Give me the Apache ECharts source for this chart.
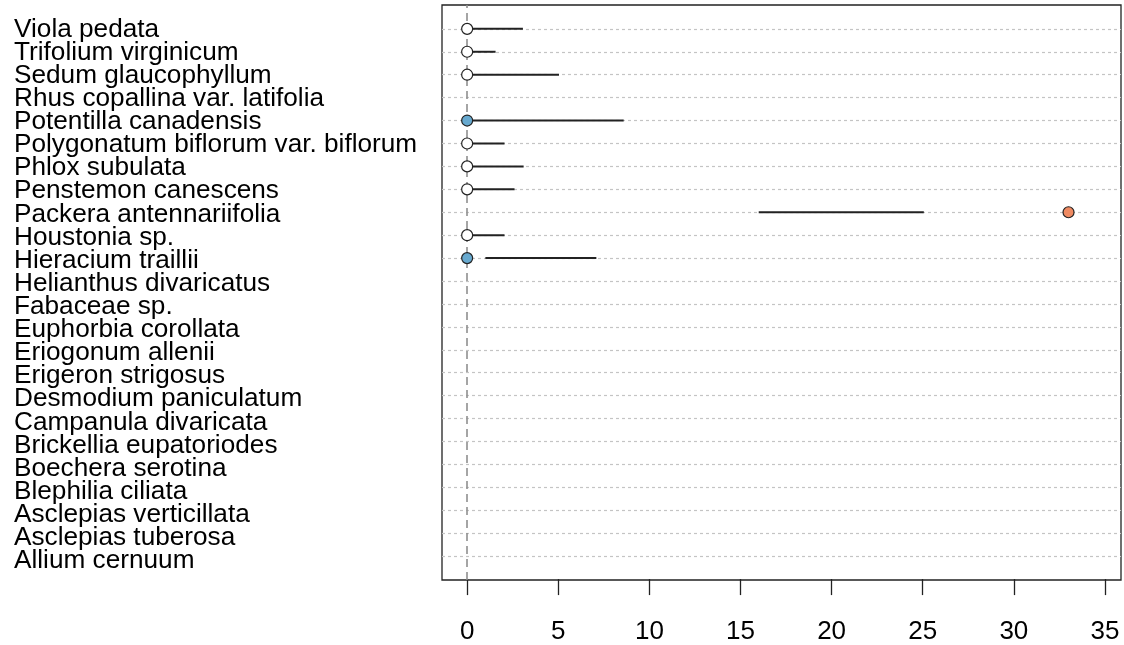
<!DOCTYPE html>
<html>
<head>
<meta charset="utf-8">
<script src="https://cdn.jsdelivr.net/npm/echarts@6/dist/echarts.min.js"></script>
<style>html,body{margin:0;padding:0;background:#fff;}#c{width:1124px;height:645px;}</style>
</head>
<body>
<div id="c"></div>
<script>
// Species, listed top to bottom as in the chart
var species = ["Viola pedata","Trifolium virginicum","Sedum glaucophyllum","Rhus copallina var. latifolia","Potentilla canadensis","Polygonatum biflorum var. biflorum","Phlox subulata","Penstemon canescens","Packera antennariifolia","Houstonia sp.","Hieracium traillii","Helianthus divaricatus","Fabaceae sp.","Euphorbia corollata","Eriogonum allenii","Erigeron strigosus","Desmodium paniculatum","Campanula divaricata","Brickellia eupatoriodes","Boechera serotina","Blephilia ciliata","Asclepias verticillata","Asclepias tuberosa","Allium cernuum"];
var estimate = [0,0,0,null,0,0,0,0,33.0,0,0,null,null,null,null,null,null,null,null,null,null,null,null,null];
var lower    = [0,0,0,null,0,0,0,0,16.0,0,1.0,null,null,null,null,null,null,null,null,null,null,null,null,null];
var upper    = [3.06,1.56,5.04,null,8.59,2.05,3.1,2.6,25.06,2.05,7.09,null,null,null,null,null,null,null,null,null,null,null,null,null];
var group    = ["none","none","none",null,"neg","none","none","none","pos","none","neg",null,null,null,null,null,null,null,null,null,null,null,null,null];
var xTicks = [0,5,10,15,20,25,30,35];

var fills = {none:"#FFFFFF", neg:"#67A9CF", pos:"#EF8A62"};
var n = species.length;
function rowY(i){ return n - i; } // top row = n, bottom row = 1
var X_MIN = -1.38, X_MAX = 35.88;

var pts = [], segs = [];
for (var i = 0; i < n; i++) {
  if (estimate[i] !== null) pts.push({value:[estimate[i], rowY(i)], itemStyle:{color:fills[group[i]]}});
  if (lower[i] !== null) segs.push([lower[i], upper[i], rowY(i)]);
}
var rowLines = species.map(function(s, i){ return {yAxis: rowY(i)}; });
var labelData = species.map(function(s, i){ return {value: [X_MIN, rowY(i)], name: s}; });

var chart = echarts.init(document.getElementById('c'), null, {renderer:'canvas'});
chart.setOption({
  animation: false,
  backgroundColor: '#fff',
  grid: {left: 442, right: 3, top: 5, bottom: 63, show: true, borderColor: '#222', borderWidth: 1.3, backgroundColor: 'transparent'},
  xAxis: {
    type: 'value', min: X_MIN, max: X_MAX,
    axisLine: {show: false},
    splitLine: {show: false},
    axisTick: {show: true, customValues: xTicks, length: 16, lineStyle: {color: '#222', width: 1.3}},
    axisLabel: {customValues: xTicks, fontSize: 26, fontFamily: 'Liberation Sans, Arial, sans-serif', color: '#000', margin: 39}
  },
  yAxis: {
    type: 'value', min: -0.04, max: n + 1.04,
    axisLine: {show: false},
    splitLine: {show: false},
    axisTick: {show: false},
    axisLabel: {show: false}
  },
  series: [
    {
      type: 'scatter', data: [], z: 1, silent: true,
      markLine: {z: 1, silent: true, symbol: 'none', label: {show: false}, animation: false,
        lineStyle: {color: '#c4c4c4', type: [3, 3], width: 1.2}, data: rowLines}
    },
    {
      type: 'scatter', data: [], z: 2, silent: true,
      markLine: {z: 2, silent: true, symbol: 'none', label: {show: false}, animation: false,
        lineStyle: {color: '#8f8f8f', type: [8, 5], width: 1.6}, data: [{xAxis: 0}]}
    },
    {
      type: 'custom', z: 3, silent: true,
      data: segs,
      renderItem: function(params, api){
        var a = api.coord([api.value(0), api.value(2)]);
        var b = api.coord([api.value(1), api.value(2)]);
        return {type: 'rect', shape: {x: a[0], y: a[1] - 1, width: b[0] - a[0], height: 2},
          style: {fill: '#222', stroke: null}};
      }
    },
    {
      type: 'scatter', z: 4, silent: true,
      symbol: 'circle', symbolSize: 11,
      itemStyle: {borderColor: '#222', borderWidth: 1.2, opacity: 1},
      data: pts
    },
    {
      type: 'custom', z: 5, silent: true, clip: false,
      data: labelData,
      renderItem: function(params, api){
        var p = api.coord([api.value(0), api.value(1)]);
        return {type: 'text', x: p[0] - 428, y: p[1] + 0.5 + params.dataIndex * 0.19,
          style: {text: species[params.dataIndex], fill: '#000', font: '26.2px "Liberation Sans", Arial, sans-serif',
            textAlign: 'left', textVerticalAlign: 'middle'}};
      }
    }
  ]
});
</script>
</body>
</html>
